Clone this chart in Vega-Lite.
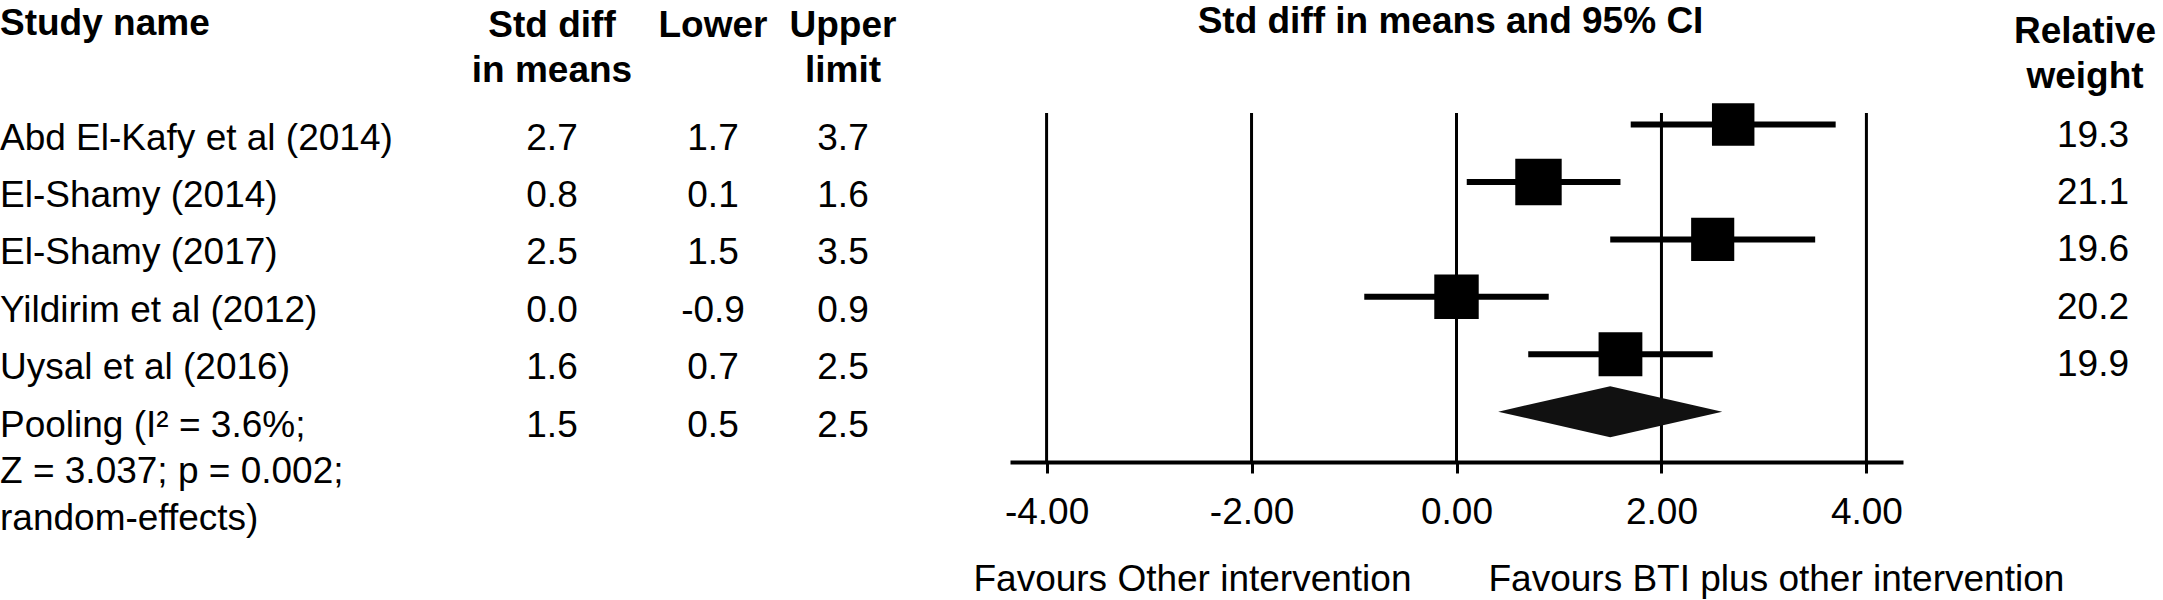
{
  "$schema": "https://vega.github.io/schema/vega-lite/v6.json",
  "padding": 0,
  "spacing": 0,
  "bounds": "flush",
  "datasets": {
    "studies": [
      {"row": 1, "study": "Abd El-Kafy et al (2014)", "est": 2.7, "lower": 1.7, "upper": 3.7, "weight": 19.3, "kind": "study"},
      {"row": 2, "study": "El-Shamy (2014)", "est": 0.8, "lower": 0.1, "upper": 1.6, "weight": 21.1, "kind": "study"},
      {"row": 3, "study": "El-Shamy (2017)", "est": 2.5, "lower": 1.5, "upper": 3.5, "weight": 19.6, "kind": "study"},
      {"row": 4, "study": "Yildirim et al (2012)", "est": 0.0, "lower": -0.9, "upper": 0.9, "weight": 20.2, "kind": "study"},
      {"row": 5, "study": "Uysal et al (2016)", "est": 1.6, "lower": 0.7, "upper": 2.5, "weight": 19.9, "kind": "study"},
      {"row": 6, "study": "Pooling (I² = 3.6%;\nZ = 3.037; p = 0.002;\nrandom-effects)", "est": 1.5, "lower": 0.5, "upper": 2.5, "weight": null, "kind": "pooled"}
    ],
    "headers": [
      {"col": "name", "label": "Study name"},
      {"col": "est", "label": "Std diff\nin means"},
      {"col": "lower", "label": "Lower"},
      {"col": "upper", "label": "Upper\nlimit"},
      {"col": "ci", "label": "Std diff in means and 95% CI"},
      {"col": "weight", "label": "Relative\nweight"}
    ],
    "ticks": [{"v": -4}, {"v": -2}, {"v": 0}, {"v": 2}, {"v": 4}],
    "favours": [
      {"side": "left", "label": "Favours Other intervention"},
      {"side": "right", "label": "Favours BTI plus other intervention"}
    ]
  },
  "hconcat": [
    {
      "width": 454, "height": 600,
      "layer": [
        {
          "data": {"name": "headers"},
          "transform": [{"filter": "datum.col === 'name'"}],
          "mark": {"type": "text", "align": "left", "baseline": "alphabetic", "fontWeight": "bold", "fontSize": 37, "dy": -32, "lineBreak": "\n", "lineHeight": 45},
          "encoding": {
            "x": {"datum": 0, "type": "quantitative", "scale": {"domain": [0, 1], "nice": false}, "axis": null},
            "y": {"datum": 0, "type": "quantitative", "scale": {"domain": [-1.17, 9.28], "reverse": true, "nice": false, "zero": false}, "axis": null},
            "text": {"field": "label", "type": "nominal"}
          }
        },
        {
          "data": {"name": "studies"},
          "mark": {"type": "text", "align": "left", "baseline": "alphabetic", "fontSize": 37, "dy": 25, "lineBreak": "\n", "lineHeight": 46.5},
          "encoding": {
            "x": {"datum": 0, "type": "quantitative", "scale": {"domain": [0, 1], "nice": false}, "axis": null},
            "y": {"field": "row", "type": "quantitative", "scale": {"domain": [-1.17, 9.28], "reverse": true, "nice": false, "zero": false}, "axis": null},
            "text": {"field": "study", "type": "nominal"}
          }
        }
      ]
    },
    {
      "width": 196, "height": 600,
      "layer": [
        {
          "data": {"name": "headers"},
          "transform": [{"filter": "datum.col === 'est'"}],
          "mark": {"type": "text", "align": "center", "baseline": "alphabetic", "fontWeight": "bold", "fontSize": 37, "dy": -30.5, "lineBreak": "\n", "lineHeight": 45},
          "encoding": {
            "y": {"datum": 0, "type": "quantitative", "scale": {"domain": [-1.17, 9.28], "reverse": true, "nice": false, "zero": false}, "axis": null},
            "text": {"field": "label", "type": "nominal"}
          }
        },
        {
          "data": {"name": "studies"},
          "mark": {"type": "text", "align": "center", "baseline": "alphabetic", "fontSize": 37, "dy": 25},
          "encoding": {
            "y": {"field": "row", "type": "quantitative", "scale": {"domain": [-1.17, 9.28], "reverse": true, "nice": false, "zero": false}, "axis": null},
            "text": {"field": "est", "type": "quantitative", "format": ".1f"}
          }
        }
      ]
    },
    {
      "width": 126, "height": 600,
      "layer": [
        {
          "data": {"name": "headers"},
          "transform": [{"filter": "datum.col === 'lower'"}],
          "mark": {"type": "text", "align": "center", "baseline": "alphabetic", "fontWeight": "bold", "fontSize": 37, "dy": -30.5, "lineBreak": "\n", "lineHeight": 45},
          "encoding": {
            "y": {"datum": 0, "type": "quantitative", "scale": {"domain": [-1.17, 9.28], "reverse": true, "nice": false, "zero": false}, "axis": null},
            "text": {"field": "label", "type": "nominal"}
          }
        },
        {
          "data": {"name": "studies"},
          "mark": {"type": "text", "align": "center", "baseline": "alphabetic", "fontSize": 37, "dy": 25},
          "encoding": {
            "y": {"field": "row", "type": "quantitative", "scale": {"domain": [-1.17, 9.28], "reverse": true, "nice": false, "zero": false}, "axis": null},
            "text": {"field": "lower", "type": "quantitative", "format": ".1f"}
          }
        }
      ]
    },
    {
      "width": 134, "height": 600,
      "layer": [
        {
          "data": {"name": "headers"},
          "transform": [{"filter": "datum.col === 'upper'"}],
          "mark": {"type": "text", "align": "center", "baseline": "alphabetic", "fontWeight": "bold", "fontSize": 37, "dy": -30.5, "lineBreak": "\n", "lineHeight": 45},
          "encoding": {
            "y": {"datum": 0, "type": "quantitative", "scale": {"domain": [-1.17, 9.28], "reverse": true, "nice": false, "zero": false}, "axis": null},
            "text": {"field": "label", "type": "nominal"}
          }
        },
        {
          "data": {"name": "studies"},
          "mark": {"type": "text", "align": "center", "baseline": "alphabetic", "fontSize": 37, "dy": 25},
          "encoding": {
            "y": {"field": "row", "type": "quantitative", "scale": {"domain": [-1.17, 9.28], "reverse": true, "nice": false, "zero": false}, "axis": null},
            "text": {"field": "upper", "type": "quantitative", "format": ".1f"}
          }
        }
      ]
    },
    {
      "width": 100, "height": 600,
      "data": {"values": []},
      "mark": {"type": "text"},
      "encoding": {}
    },
    {
      "width": 893, "height": 600,
      "encoding": {
        "x": {
          "type": "quantitative",
          "scale": {"domain": [-4.357, 4.357], "nice": false, "zero": false},
          "axis": {
            "values": [-4, -2, 0, 2, 4], "format": ".2f", "title": null, "grid": false,
            "orient": "bottom", "offset": -138,
            "domainColor": "black", "domainWidth": 4,
            "tickColor": "black", "tickWidth": 3, "tickSize": 11,
            "labelFont": "Liberation Sans", "labelFontSize": 37, "labelColor": "black",
            "labelBaseline": "alphabetic", "labelPadding": 50,
            "labelFlush": false, "labelOverlap": false
          }
        },
        "y": {"type": "quantitative", "scale": {"domain": [-1.17, 9.28], "reverse": true, "nice": false, "zero": false}, "axis": null}
      },
      "layer": [
        {
          "data": {"name": "ticks"},
          "mark": {"type": "rule", "color": "black", "strokeWidth": 3},
          "encoding": {
            "x": {"field": "v"},
            "y": {"datum": 0.8},
            "y2": {"datum": 6.876}
          }
        },
        {
          "data": {"name": "studies"},
          "transform": [{"filter": "datum.kind === 'study'"}],
          "mark": {"type": "rule", "color": "black", "strokeWidth": 6},
          "encoding": {
            "x": {"field": "lower"},
            "x2": {"field": "upper"},
            "y": {"field": "row"}
          }
        },
        {
          "data": {"name": "studies"},
          "transform": [{"filter": "datum.kind === 'study'"}],
          "mark": {"type": "square", "filled": true, "color": "black", "opacity": 1},
          "encoding": {
            "x": {"field": "est"},
            "y": {"field": "row"},
            "size": {"field": "weight", "type": "quantitative", "scale": {"type": "pow", "exponent": 2, "domain": [0, 25], "range": [0, 3025]}, "legend": null}
          }
        },
        {
          "data": {"name": "studies"},
          "transform": [{"filter": "datum.kind === 'pooled'"}],
          "mark": {"type": "point", "shape": "M-1,0L0,-0.2277L1,0L0,0.2277Z", "size": 50176, "filled": true, "color": "#111111", "opacity": 1},
          "encoding": {
            "x": {"field": "est"},
            "y": {"field": "row"}
          }
        },
        {
          "data": {"name": "headers"},
          "transform": [{"filter": "datum.col === 'ci'"}],
          "mark": {"type": "text", "align": "center", "baseline": "alphabetic", "fontWeight": "bold", "fontSize": 37, "dy": -33.9, "dx": -6},
          "encoding": {
            "x": {"datum": 0},
            "y": {"datum": 0},
            "text": {"field": "label", "type": "nominal"}
          }
        },
        {
          "data": {"name": "favours"},
          "transform": [{"filter": "datum.side === 'left'"}],
          "mark": {"type": "text", "align": "right", "baseline": "alphabetic", "fontSize": 37, "dx": -45, "dy": 7},
          "encoding": {
            "x": {"datum": 0},
            "y": {"datum": 9},
            "text": {"field": "label", "type": "nominal"}
          }
        },
        {
          "data": {"name": "favours"},
          "transform": [{"filter": "datum.side === 'right'"}],
          "mark": {"type": "text", "align": "left", "baseline": "alphabetic", "fontSize": 37, "dx": 32, "dy": 7},
          "encoding": {
            "x": {"datum": 0},
            "y": {"datum": 9},
            "text": {"field": "label", "type": "nominal"}
          }
        }
      ]
    },
    {
      "width": 104, "height": 600,
      "data": {"values": []},
      "mark": {"type": "text"},
      "encoding": {}
    },
    {
      "width": 156, "height": 600,
      "layer": [
        {
          "data": {"name": "headers"},
          "transform": [{"filter": "datum.col === 'weight'"}],
          "mark": {"type": "text", "align": "center", "baseline": "alphabetic", "fontWeight": "bold", "fontSize": 37, "dy": -24.2, "lineBreak": "\n", "lineHeight": 45},
          "encoding": {
            "y": {"datum": 0, "type": "quantitative", "scale": {"domain": [-1.17, 9.28], "reverse": true, "nice": false, "zero": false}, "axis": null},
            "text": {"field": "label", "type": "nominal"}
          }
        },
        {
          "data": {"name": "studies"},
          "transform": [{"filter": "datum.kind === 'study'"}],
          "mark": {"type": "text", "align": "center", "baseline": "alphabetic", "fontSize": 37, "dy": 22, "dx": 8},
          "encoding": {
            "y": {"field": "row", "type": "quantitative", "scale": {"domain": [-1.17, 9.28], "reverse": true, "nice": false, "zero": false}, "axis": null},
            "text": {"field": "weight", "type": "quantitative", "format": ".1f"}
          }
        }
      ]
    }
  ],
  "config": {
    "view": {"stroke": null},
    "mark": {"color": "black"},
    "text": {"font": "Liberation Sans", "fontSize": 37, "color": "black"},
    "locale": {
      "number": {"decimal": ".", "thousands": ",", "grouping": [3], "currency": ["$", ""], "minus": "-"}
    }
  }
}
